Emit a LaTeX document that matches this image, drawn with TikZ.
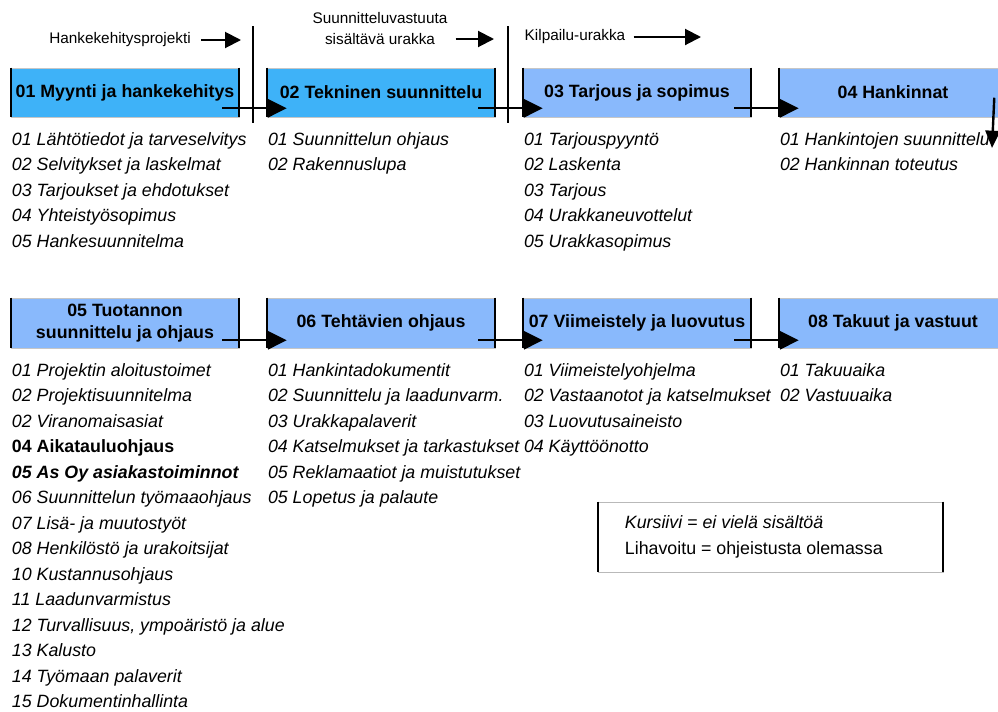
\documentclass[tikz,border=0pt]{standalone}
\usepackage{fontspec}
\setmainfont{Liberation Sans}
\usetikzlibrary{arrows.meta, positioning}

\definecolor{phaseA}{RGB}{62,178,248}
\definecolor{phaseB}{RGB}{137,185,252}

\tikzset{
  phase/.style={fill=phaseB, draw=gray!45, line width=0.4pt, minimum width=171pt,
    minimum height=36.75pt, inner sep=1pt, align=center,
    font=\fontsize{13.35}{16.5}\selectfont\bfseries},
  tasks/.style={inner sep=0pt, align=left,
    font=\fontsize{13.35}{19.1}\selectfont\itshape},
  note/.style={inner sep=0pt, font=\fontsize{11.5}{15.75}\selectfont},
  flow/.style={line width=1.8pt, -{Triangle[length=14pt, width=13.5pt]}},
  noteflow/.style={line width=1.5pt, -{Triangle[length=12pt, width=12pt]}}
}

\begin{document}
\begin{tikzpicture}[x=0.75pt, y=-0.75pt]
\useasboundingbox (0,0) rectangle (998,711);
\clip (0,0) rectangle (998,711);
\fill[white] (0,0) rectangle (998,711);

% phases
\node[phase, fill=phaseA] (b1) at (125,92.5) {01 Myynti ja hankekehitys};
\node[phase, fill=phaseA, right=20.6pt of b1] (b2) {02 Tekninen suunnittelu};
\node[phase, right=20.6pt of b2] (b3) {03 Tarjous ja sopimus};
\node[phase, right=20.6pt of b3] (b4) {04 Hankinnat};
\node[phase, minimum height=37.5pt] (b5) at (125,323) {05 Tuotannon\\suunnittelu ja ohjaus};
\node[phase, minimum height=37.5pt, right=20.6pt of b5] (b6) {06 Tehtävien ohjaus};
\node[phase, minimum height=37.5pt, right=20.6pt of b6] (b7) {07 Viimeistely ja luovutus};
\node[phase, minimum height=37.5pt, right=20.6pt of b7] (b8) {08 Takuut ja vastuut};
\foreach \b in {b1,b2,b3,b4,b5,b6,b7,b8}
  \draw[line width=1.3pt] (\b.north west) -- (\b.south west) (\b.north east) -- (\b.south east);

% tasks
\node[tasks, below right=11.25pt and 0.75pt of b1.south west] (l1) {01 Lähtötiedot ja tarveselvitys\\02 Selvitykset ja laskelmat\\03 Tarjoukset ja ehdotukset\\04 Yhteistyösopimus\\05 Hankesuunnitelma};
\node[tasks, below right=11.25pt and 0.75pt of b2.south west] (l2) {01 Suunnittelun ohjaus\\02 Rakennuslupa};
\node[tasks, below right=11.25pt and 0.75pt of b3.south west] (l3) {01 Tarjouspyyntö\\02 Laskenta\\03 Tarjous\\04 Urakkaneuvottelut\\05 Urakkasopimus};
\node[tasks, below right=11.25pt and 0.75pt of b4.south west] (l4) {01 Hankintojen suunnittelu\\02 Hankinnan toteutus};
\node[tasks, below right=11.25pt and 0.75pt of b5.south west] (l5) {01 Projektin aloitustoimet\\02 Projektisuunnitelma\\02 Viranomaisasiat\\{\bfseries\upshape 04 Aikatauluohjaus}\\{\bfseries 05 As Oy asiakastoiminnot}\\06 Suunnittelun työmaaohjaus\\07 Lisä- ja muutostyöt\\08 Henkilöstö ja urakoitsijat\\10 Kustannusohjaus\\11 Laadunvarmistus\\12 Turvallisuus, ympoäristö ja alue\\13 Kalusto\\14 Työmaan palaverit\\15 Dokumentinhallinta};
\node[tasks, below right=11.25pt and 0.75pt of b6.south west] (l6) {01 Hankintadokumentit\\02 Suunnittelu ja laadunvarm.\\03 Urakkapalaverit\\04 Katselmukset ja tarkastukset\\05 Reklamaatiot ja muistutukset\\05 Lopetus ja palaute};
\node[tasks, below right=11.25pt and 0.75pt of b7.south west] (l7) {01 Viimeistelyohjelma\\02 Vastaanotot ja katselmukset\\03 Luovutusaineisto\\04 Käyttöönotto};
\node[tasks, below right=11.25pt and 0.75pt of b8.south west] (l8) {01 Takuuaika\\02 Vastuuaika};

% contract types
\node[note] (hp) at (120,40) {Hankekehitysprojekti};
\node[note, align=center] (sv) at (380,28.5) {Suunnitteluvastuuta\\sisältävä urakka};
\node[note] (ku) at (575,37) {Kilpailu-urakka};
\coordinate (hpend) at (241,40);
\coordinate (svend) at (494,39);
\coordinate (kuend) at (701,37);
\draw[noteflow] ([xshift=7.5pt]hp.east) -- (hpend);
\draw[noteflow] ([xshift=6pt]sv.east |- svend) -- (svend);
\draw[noteflow] ([xshift=6pt]ku.east) -- (kuend);
\coordinate (d1top) at (253,26);
\coordinate (d1bot) at (253,123);
\coordinate (d2top) at (508,26);
\coordinate (d2bot) at (508,123);
\draw[line width=1.4pt] (d1top) -- (d1bot);
\draw[line width=1.4pt] (d2top) -- (d2bot);

% flow
\draw[flow] ([shift={(-17,-9)}]b1.south east) -- ([shift={(20,-9)}]b2.south west);
\draw[flow] ([shift={(-17,-9)}]b2.south east) -- ([shift={(20,-9)}]b3.south west);
\draw[flow] ([shift={(-17,-9)}]b3.south east) -- ([shift={(20,-9)}]b4.south west);
\coordinate (down4) at (992,148);
\draw[flow, -{Triangle[length=13pt, width=11pt]}] ([shift={(-13,30)}]b4.north east) -- (down4);
\draw[flow] ([shift={(-17,-8)}]b5.south east) -- ([shift={(20,-8)}]b6.south west);
\draw[flow] ([shift={(-17,-8)}]b6.south east) -- ([shift={(20,-8)}]b7.south west);
\draw[flow] ([shift={(-17,-8)}]b7.south east) -- ([shift={(20,-8)}]b8.south west);

% legend
\node[draw=gray!55, line width=0.5pt, minimum width=258.75pt, minimum height=52.5pt] (leg) at (770.5,537) {};
\draw[line width=1.3pt] (leg.north west) -- (leg.south west) (leg.north east) -- (leg.south east);
\node[tasks, font=\fontsize{13.35}{19.1}\selectfont, anchor=west] (legtxt) at ([xshift=20.25pt]leg.west) {{\itshape Kursiivi = ei vielä sisältöä}\\Lihavoitu = ohjeistusta olemassa};
\end{tikzpicture}
\end{document}
